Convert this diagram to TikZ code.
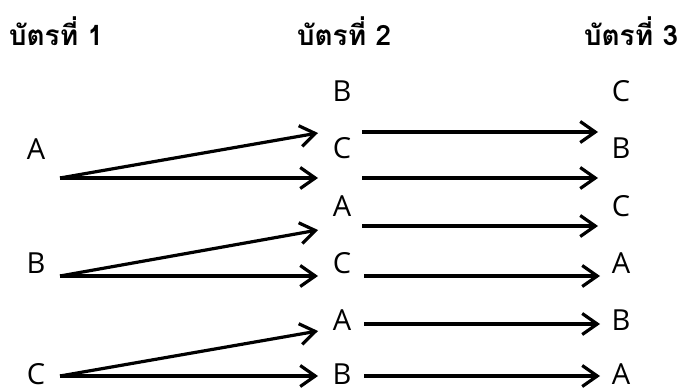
\documentclass[tikz,border=0pt]{standalone}
\usepackage{fontspec}
\usetikzlibrary{arrows.meta}
\newfontfamily\thaifont[Script=Thai]{Loma}
\newfontfamily\letterfont{Open Sans}
\begin{document}
\begin{tikzpicture}[x=1pt,y=-1pt,
  title/.style={font=\thaifont\bfseries\fontsize{28}{30}\selectfont, anchor=base, inner sep=0pt},
  letter/.style={font=\letterfont\fontsize{29}{31}\selectfont, anchor=base, inner sep=0pt},
  arr/.style={line width=3.2pt, -{Straight Barb[length=15pt,width=21pt,line width=3.2pt]}}]
\useasboundingbox (0,0) rectangle (682,390);
% titles
\node[title] (t1) at (56,46) {บัตรที่ 1};
\node[title] (t2) at (344,46) {บัตรที่ 2};
\node[title] (t3) at (631,46) {บัตรที่ 3};
% column 1
\node[letter] (a1) at (36,160) {A};
\node[letter] (b1) at (36,273) {B};
\node[letter] (c1) at (36,384) {C};
% column 2
\node[letter] (m1) at (342,102) {B};
\node[letter] (m2) at (342,159) {C};
\node[letter] (m3) at (342,216) {A};
\node[letter] (m4) at (342,273) {C};
\node[letter] (m5) at (342,330) {A};
\node[letter] (m6) at (342,384) {B};
% column 3
\node[letter] (r1) at (621,102) {C};
\node[letter] (r2) at (621,159) {B};
\node[letter] (r3) at (621,216) {C};
\node[letter] (r4) at (621,273) {A};
\node[letter] (r5) at (621,330) {B};
\node[letter] (r6) at (621,384) {A};
% connector end points
\coordinate (sa) at (60,178);
\coordinate (sb) at (60,276);
\coordinate (sc) at (60,376);
\coordinate (e1) at (318,133);
\coordinate (e2) at (318,178);
\coordinate (e3) at (318,230);
\coordinate (e4) at (318,276);
\coordinate (e5) at (318,331);
\coordinate (e6) at (318,376);
\coordinate (f1) at (362,132);
\coordinate (f2) at (362,178);
\coordinate (f3) at (362,226);
\coordinate (f4) at (364,276);
\coordinate (f5) at (364,324);
\coordinate (f6) at (364,376);
\coordinate (g1) at (598,132);
\coordinate (g2) at (598,178);
\coordinate (g3) at (598,226);
\coordinate (g4) at (600,276);
\coordinate (g5) at (600,324);
\coordinate (g6) at (600,376);
% arrows
\draw[arr] (sa) -- (e1);
\draw[arr] (sa) -- (e2);
\draw[arr] (sb) -- (e3);
\draw[arr] (sb) -- (e4);
\draw[arr] (sc) -- (e5);
\draw[arr] (sc) -- (e6);
\draw[arr] (f1) -- (g1);
\draw[arr] (f2) -- (g2);
\draw[arr] (f3) -- (g3);
\draw[arr] (f4) -- (g4);
\draw[arr] (f5) -- (g5);
\draw[arr] (f6) -- (g6);
\end{tikzpicture}
\end{document}
